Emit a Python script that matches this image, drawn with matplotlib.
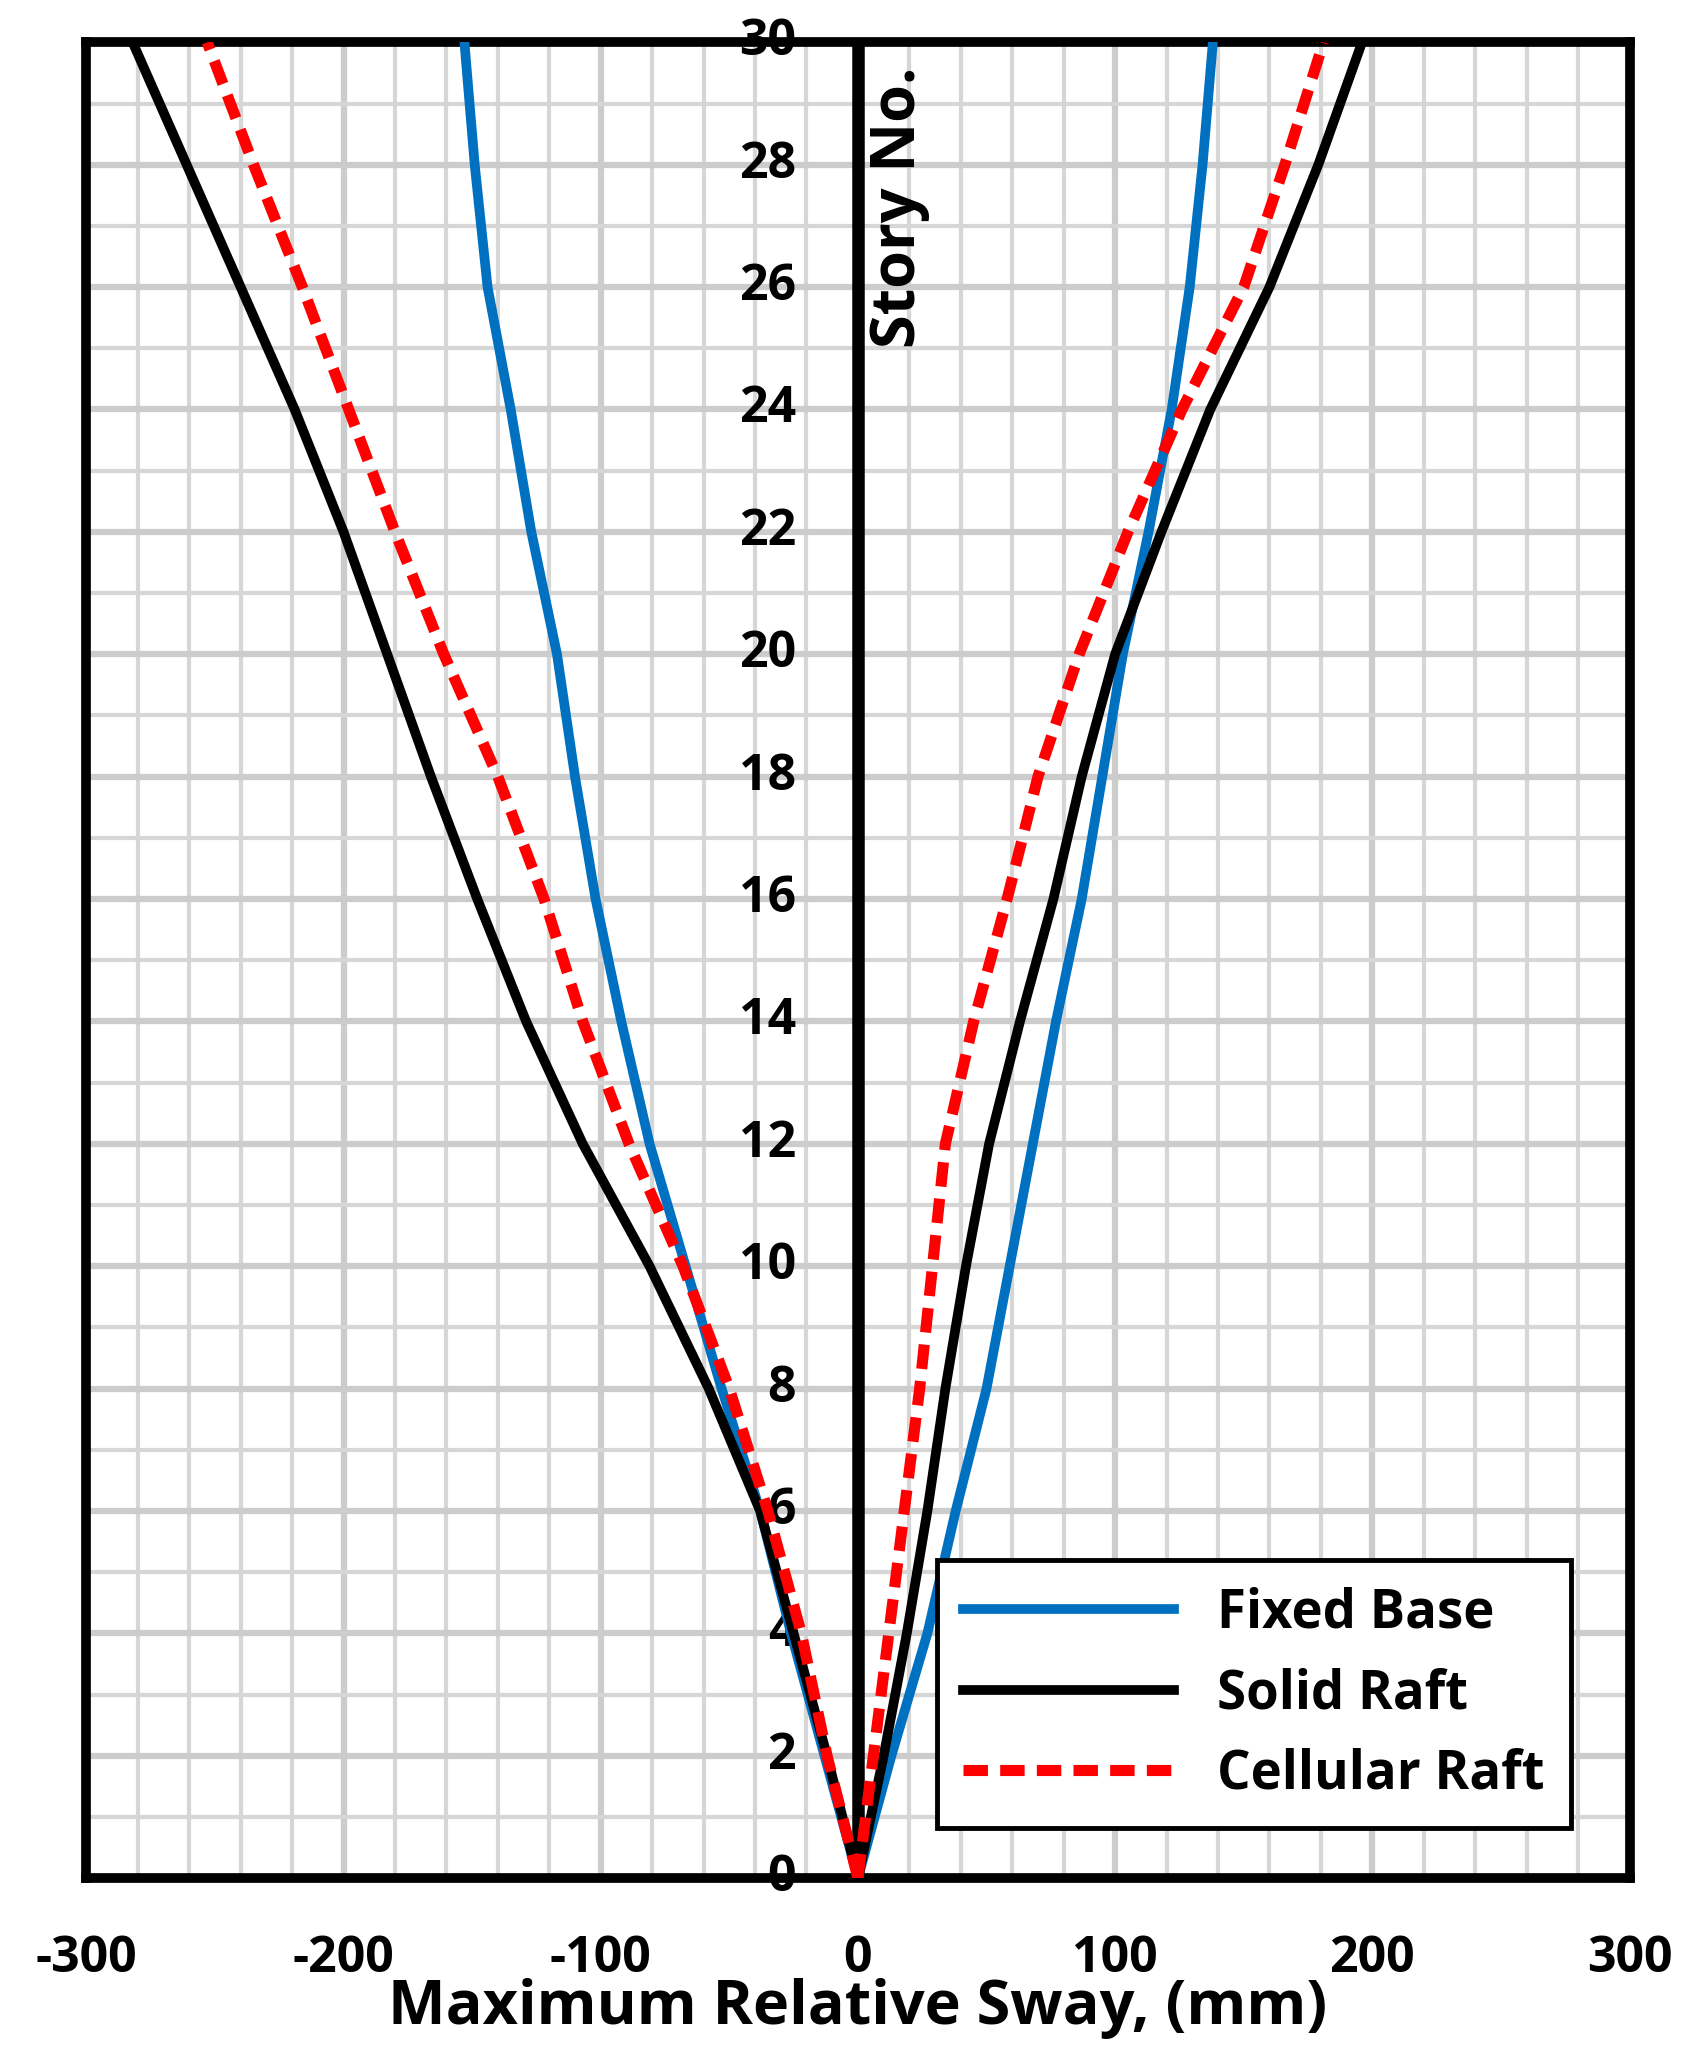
import matplotlib
matplotlib.use('agg')
import matplotlib.pyplot as plt
from matplotlib.ticker import MultipleLocator

stories = [0, 2, 4, 6, 8, 10, 12, 14, 16, 18, 20, 22, 24, 26, 28, 30]

fixed_right = [0, 13, 27, 38, 50, 59, 68, 77, 87, 95, 103, 113, 122, 129, 134, 138]
fixed_left = [0, -13, -26, -38, -53, -67, -81, -92, -102, -110, -117, -127, -135, -144, -149, -153]

solid_right = [0, 10, 19, 27, 34, 42, 51, 63, 76, 87, 100, 118, 137, 160, 179, 196]
solid_left = [0, -12, -25, -38, -58, -81, -107, -129, -148, -166, -183, -200, -219, -240, -261, -282]

cell_right = [0, 6, 12, 18, 24, 29, 34, 45, 58, 70, 86, 105, 126, 150, 166, 181]
cell_left = [0, -12, -22, -35, -50, -68, -89, -107, -122, -140, -161, -180, -198, -216, -235, -253]

plt.rcParams['font.family'] = ['Open Sans', 'DejaVu Sans']
plt.rcParams['font.weight'] = 'bold'
plt.rcParams['axes.unicode_minus'] = False

fig = plt.figure(figsize=(16.93, 20.64), dpi=100)
ax = fig.add_axes([0.051, 0.09, 0.9115, 0.8895])

ax.plot(fixed_right, stories, color='#0070C0', lw=7, label='Fixed Base', zorder=3)
ax.plot(fixed_left, stories, color='#0070C0', lw=7, zorder=3)
ax.plot(solid_right, stories, color='black', lw=7, label='Solid Raft', zorder=3)
ax.plot(solid_left, stories, color='black', lw=7, zorder=3)
ax.plot(cell_right, stories, color='#FF0000', lw=8, ls=(0, (2.2, 1.1)), label='Cellular Raft', zorder=4)
ax.plot(cell_left, stories, color='#FF0000', lw=8, ls=(0, (2.2, 1.1)), zorder=4)

ax.axvline(0, color='black', lw=9, zorder=2)

ax.set_xlim(-300, 300)
ax.set_ylim(0, 30)
ax.xaxis.set_major_locator(MultipleLocator(100))
ax.xaxis.set_minor_locator(MultipleLocator(20))
ax.yaxis.set_major_locator(MultipleLocator(2))
ax.yaxis.set_minor_locator(MultipleLocator(1))
ax.grid(which='major', color='#CCCCCC', lw=4.5)
ax.grid(which='minor', color='#D6D6D6', lw=3)
ax.set_axisbelow(True)

for s in ax.spines.values():
    s.set_linewidth(7)

ax.tick_params(which='both', length=0)
ax.tick_params(axis='x', labelsize=36, pad=40)
ax.set_yticks(range(0, 31, 2))
ax.set_yticklabels([])
for v in range(0, 31, 2):
    ax.text(-24, v, str(v), ha='right', va='center', fontsize=36, fontweight='bold', zorder=1)

ax.set_xlabel('Maximum Relative Sway, (mm)', fontsize=44, fontweight='bold', labelpad=-4)
ax.text(16, 29.6, 'Story No.', rotation=90, ha='center', va='top', fontsize=44, fontweight='bold')

leg = ax.legend(loc='lower right', bbox_to_anchor=(0.979, 0.013), fontsize=38, fancybox=False,
                framealpha=1, edgecolor='black', handlelength=4, borderpad=0.5)
leg.get_frame().set_linewidth(3.5)

fig.savefig('out.png', dpi=100)
